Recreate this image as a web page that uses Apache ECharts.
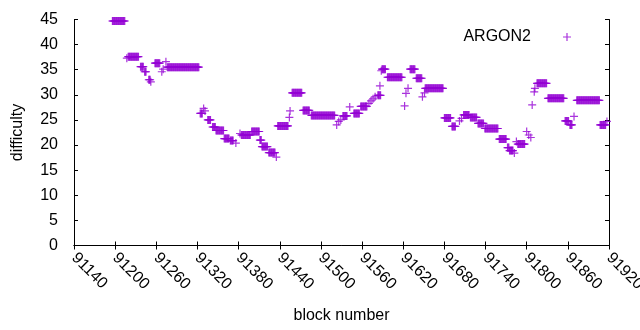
<!DOCTYPE html>
<html>
<head>
<meta charset="utf-8">
<script src="https://cdn.jsdelivr.net/npm/echarts@6/dist/echarts.min.js"></script>
<style>
  html, body { margin: 0; padding: 0; background: #fff; }
  #chart { width: 640px; height: 330px; }
</style>
</head>
<body>
<div id="chart"></div>
<script>
  // difficulty stays flat over runs of blocks: [first block, last block] -> value
  const runStart = [91196, 91217, 91219, 91237, 91243, 91249, 91252, 91258, 91268, 91270, 91274, 91276,
    91324, 91329, 91331, 91335, 91342, 91347, 91359, 91368, 91376, 91382, 91384, 91399, 91411, 91414,
    91424, 91435, 91437, 91454, 91455, 91458, 91474, 91486, 91523, 91526, 91529, 91532, 91542, 91548,
    91558, 91570, 91573, 91576, 91579, 91583, 91586, 91588, 91589, 91597, 91622, 91624, 91627, 91630,
    91639, 91648, 91651, 91652, 91680, 91691, 91702, 91705, 91708, 91718, 91729, 91739, 91760, 91772,
    91775, 91782, 91785, 91787, 91800, 91803, 91806, 91808, 91811, 91812, 91815, 91831, 91856, 91863,
    91869, 91873, 91907, 91917]
  const runEnd = [91214, 91217, 91234, 91241, 91245, 91251, 91252, 91265, 91268, 91270, 91274, 91322,
    91327, 91329, 91331, 91339, 91346, 91358, 91366, 91372, 91376, 91382, 91397, 91410, 91413, 91422,
    91433, 91435, 91452, 91454, 91455, 91472, 91483, 91520, 91523, 91526, 91529, 91538, 91542, 91556,
    91567, 91570, 91573, 91576, 91579, 91587, 91586, 91588, 91594, 91618, 91622, 91624, 91627, 91637,
    91647, 91648, 91651, 91678, 91689, 91696, 91702, 91705, 91716, 91727, 91737, 91758, 91770, 91774,
    91780, 91782, 91785, 91797, 91800, 91803, 91806, 91808, 91811, 91812, 91829, 91854, 91861, 91866,
    91869, 91906, 91915, 91917]
  const runValue = [44.7, 37.3, 37.6, 35.6, 34.6, 33.0, 32.6, 36.3, 34.6, 35.1, 36.6, 35.5,
    26.3, 27.3, 26.8, 25.0, 23.6, 22.9, 21.3, 20.9, 20.4, 22.3, 22.0, 22.7, 21.0, 19.7,
    18.5, 17.6, 23.8, 25.5, 26.8, 30.4, 26.9, 25.9, 24.0, 24.7, 25.0, 25.8, 27.6, 26.3,
    27.7, 28.3, 28.8, 29.2, 29.6, 29.9, 31.8, 34.8, 35.1, 33.5, 27.8, 30.3, 31.3, 35.1,
    33.3, 29.6, 30.4, 31.3, 25.4, 23.7, 24.8, 25.3, 26.0, 25.5, 24.3, 23.3, 21.2, 19.5,
    18.9, 18.4, 20.7, 20.2, 22.7, 22.0, 21.5, 28.0, 30.6, 31.3, 32.3, 29.3, 24.8, 24.0,
    25.7, 28.9, 24.0, 24.7]

  const xMin = 91140
  const xMax = 91920
  const xStep = 60
  const yMin = 0
  const yMax = 45
  const yStep = 5

  // one point per block
  const points = []
  for (let i = 0; i < runStart.length; i++) {
    for (let b = runStart[i]; b <= runEnd[i]; b++) {
      points.push([b, runValue[i]])
    }
  }

  const purple = '#9400d3'
  const font = 'Liberation Sans, Arial, sans-serif'
  // gnuplot style "+" mark
  const plus = 'path://M3.4,0h1.2v3.4h3.4v1.2h-3.4v3.4h-1.2v-3.4h-3.4v-1.2h3.4z'

  const chart = echarts.init(document.getElementById('chart'), null, { renderer: 'canvas' })
  const option = {
    animation: false,
    backgroundColor: '#fff',
    grid: { left: 74, right: 31, top: 19.5, bottom: 84.5, outerBoundsMode: 'none', containLabel: false },
    legend: {
      right: 64,
      top: 24,
      align: 'right',
      icon: plus,
      itemWidth: 8,
      itemHeight: 8,
      itemGap: 0,
      textStyle: { color: '#000', fontSize: 16, fontFamily: font, padding: [0, 27, 0, 0] },
      data: ['ARGON2']
    },
    xAxis: [{
      type: 'value',
      min: xMin,
      max: xMax,
      interval: xStep,
      name: 'block number',
      nameLocation: 'middle',
      nameGap: 62,
      nameTextStyle: { color: '#000', fontSize: 16, fontFamily: font },
      axisLine: { lineStyle: { color: '#000', width: 1 } },
      axisTick: { inside: true, length: 4, lineStyle: { color: '#000' } },
      axisLabel: {
        rotate: -45,
        margin: 10,
        color: '#000',
        fontSize: 16,
        fontFamily: font,
        formatter: function(v) {
          return String(v)
        }
      },
      splitLine: { show: false }
    }, {
      // mirror border on top
      type: 'value',
      position: 'top',
      min: xMin,
      max: xMax,
      interval: xStep,
      axisLine: { lineStyle: { color: '#000', width: 1 } },
      axisTick: { inside: true, length: 4, lineStyle: { color: '#000' } },
      axisLabel: { show: false },
      splitLine: { show: false }
    }],
    yAxis: [{
      type: 'value',
      min: yMin,
      max: yMax,
      interval: yStep,
      name: 'difficulty',
      nameLocation: 'middle',
      nameGap: 48,
      nameTextStyle: { color: '#000', fontSize: 16, fontFamily: font },
      axisLine: { show: true, lineStyle: { color: '#000', width: 1 } },
      axisTick: { show: true, inside: true, length: 4, lineStyle: { color: '#000' } },
      axisLabel: { margin: 16, color: '#000', fontSize: 16, fontFamily: font },
      splitLine: { show: false }
    }, {
      // mirror border on the right
      type: 'value',
      position: 'right',
      min: yMin,
      max: yMax,
      interval: yStep,
      axisLine: { show: true, lineStyle: { color: '#000', width: 1 } },
      axisTick: { show: true, inside: true, length: 4, lineStyle: { color: '#000' } },
      axisLabel: { show: false },
      splitLine: { show: false }
    }],
    series: [{
      name: 'ARGON2',
      type: 'scatter',
      xAxisIndex: 0,
      yAxisIndex: 0,
      symbol: plus,
      symbolSize: 8,
      itemStyle: { color: purple },
      data: points
    }]
  }
  chart.setOption(option)
</script>
</body>
</html>
